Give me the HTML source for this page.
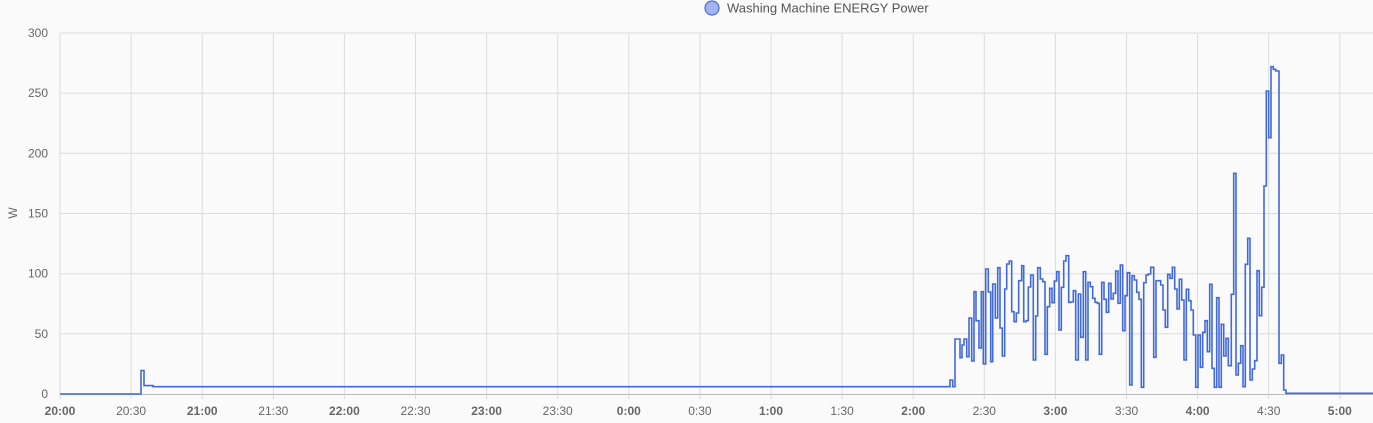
<!DOCTYPE html>
<html><head><meta charset="utf-8"><style>
html,body{margin:0;padding:0;background:#fafafa;}
svg{display:block;font-family:"Liberation Sans",Roboto,sans-serif;}
</style></head><body>
<svg id="s" width="1373" height="423" xmlns="http://www.w3.org/2000/svg">
<rect width="1373" height="423" fill="#fafafa"/>
<g id="grid" stroke="#dcdcdc" stroke-width="1"></g>
<line x1="60" y1="394.5" x2="1373" y2="394.5" stroke="#bbb"/>
<g id="ylab" font-size="12" fill="#666" text-anchor="end"></g>
<g id="xlab" font-size="12" fill="#666" text-anchor="middle"></g>
<text x="17" y="213" font-size="12" fill="#666" text-anchor="middle" transform="rotate(-90 17 213)">W</text>
<circle cx="712" cy="8" r="7" fill="#a3b3ec" stroke="#4a6fd8" stroke-width="1.2"/>
<text x="727" y="12.5" font-size="13" fill="#555">Washing Machine ENERGY Power</text>
<path id="p" fill="none" stroke="#4169d9" stroke-width="1.6" stroke-linejoin="miter"/>
</svg>
<script>
var NS="http://www.w3.org/2000/svg";
function el(t,a,p,txt){var e=document.createElementNS(NS,t);for(var k in a)e.setAttribute(k,a[k]);if(txt!=null)e.textContent=txt;document.getElementById(p).appendChild(e);}
for(var i=0;i<=6;i++){var y=394-i*60.17;if(i>0)el('line',{x1:60,x2:1373,y1:y.toFixed(1),y2:y.toFixed(1)},'grid');el('text',{x:48,y:(y+4).toFixed(1)},'ylab',i*50);}
var labs=["20:00","20:30","21:00","21:30","22:00","22:30","23:00","23:30","0:00","0:30","1:00","1:30","2:00","2:30","3:00","3:30","4:00","4:30","5:00"];
for(var i=0;i<labs.length;i++){var x=60+i*71.1;el('line',{x1:x.toFixed(1),x2:x.toFixed(1),y1:33,y2:399},'grid');var a={x:x.toFixed(1),y:415};if(i%2==0)a['font-weight']='bold';if(i==0)a['text-anchor']='middle';el('text',a,'xlab',labs[i]);}
var z1=[[0,386.7],[30,380],[38,386.7],[45,339],[60,357.7],[66,345],[72,339],[80,356.7],[87,318],[95,361],[102,291.7],[108,320.7],[117,348],[124,291.7],[130,364],[137,269],[145,292],[152,361.7],[158,284],[166,318],[173,267.7],[180,328],[187,356],[194,289],[200,264],[208,261],[215,311.7],[222,321.7],[229,313],[236,280.7],[245,265.7],[251,321.7],[258,320.7],[265,287],[272,275],[280,360],[287,316],[293,267.7],[301,279],[308,281.7],[315,354.3],[322,306.7],[329,288.3],[336,302.7],[343,281],[350,271.7],[357,330],[364,287.3],[371,261],[378,255.7],[386,302.3],[393,302],[400,290.7],[407,360],[415,294],[422,337.3],[430,271.7],[437,360],[444,282.3],[451,286.7],[458,298.3],[465,302.3],[472,303.3]];
var z2=[[28,354.3],[35,282.3],[42,299.3],[49,312.3],[56,283.3],[63,299],[70,293.3],[77,271],[84,303.3],[91,265],[98,330.7],[105,295.7],[112,272.7],[119,385],[126,275.7],[133,280],[140,292.3],[147,299.3],[154,387.3],[161,282.7],[168,275],[175,274],[182,267.3],[191,357.3],[198,280.7],[205,280.7],[212,285],[219,310],[226,327.3],[233,274.3],[240,278.3],[247,267.3],[254,289],[261,309],[268,279.3],[275,300],[282,360],[289,289.3],[296,300.7],[303,310],[310,335],[317,387.3],[324,335],[331,367.3],[338,332.3],[345,320.7],[352,351.7],[359,284.3],[366,368.3],[373,387.3],[380,297.7],[387,387.3],[394,324.3],[401,356],[408,338.3],[415,365.7]];
var z3=[[94,294.3],[101,173.3],[108,375],[115,363.3],[122,345.7],[129,386.7],[136,264.3],[143,238.3],[150,380],[157,369],[164,360.7],[171,270.7],[178,315.7],[185,287.3],[192,186],[199,91],[206,137.7],[213,66.7],[220,69.3],[227,71],[237,363.3],[244,355],[251,390],[258,393.3]];
var pts=[[60,394],[141,370.5],[144,385.6],[153,386.7]];
z1.forEach(function(p){pts.push([940+p[0]/3,p[1]]);});
z2.forEach(function(p){pts.push([1090+p[0]/3,p[1]]);});
z3.forEach(function(p){pts.push([1200+p[0]/3,p[1]]);});
var d="M"+pts[0][0]+","+pts[0][1];
for(var i=1;i<pts.length;i++){d+=" H"+pts[i][0].toFixed(1)+" V"+pts[i][1];}
d+=" H1373";
document.getElementById('p').setAttribute('d',d);
</script>
</body></html>
